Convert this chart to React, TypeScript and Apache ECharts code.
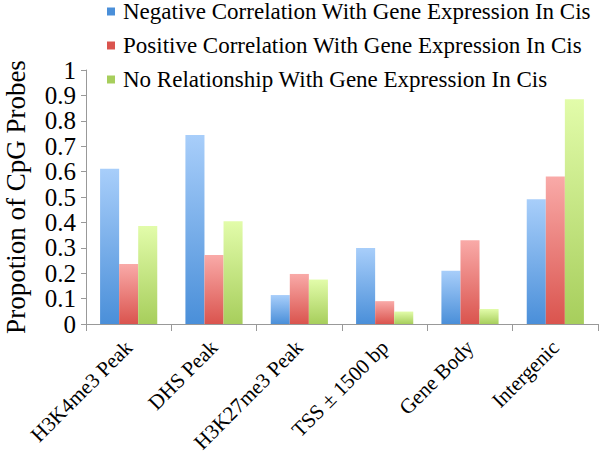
import React, { useEffect, useRef } from "react";
import * as echarts from "echarts";

const categories = ["H3K4me3 Peak", "DHS Peak", "H3K27me3 Peak", "TSS \u00b1 1500 bp", "Gene Body", "Intergenic"];
const seriesNames = [
  "Negative Correlation With Gene Expression In Cis",
  "Positive Correlation With Gene Expression In Cis",
  "No Relationship With Gene Expression In Cis",
];
const negativeValues = [0.611, 0.744, 0.114, 0.299, 0.21, 0.491];
const positiveValues = [0.236, 0.272, 0.197, 0.09, 0.33, 0.581];
const noRelValues = [0.386, 0.405, 0.175, 0.049, 0.059, 0.885];
const yTicks = [0, 0.1, 0.2, 0.3, 0.4, 0.5, 0.6, 0.7, 0.8, 0.9, 1];

const FONT = "Liberation Serif";

function grad(top: string, bottom: string) {
  return new echarts.graphic.LinearGradient(0, 0, 0, 1, [
    { offset: 0, color: top },
    { offset: 1, color: bottom },
  ]);
}

export default function App() {
  const ref = useRef<HTMLDivElement>(null);
  useEffect(() => {
    if (!ref.current) return;
    const chart = echarts.init(ref.current, undefined, { renderer: "svg" });
    const colors = [
      ["#a8cefa", "#4a8fd9"],
      ["#f9aaa8", "#da544e"],
      ["#e2fcaa", "#a7ce5c"],
    ];
    const data = [negativeValues, positiveValues, noRelValues];
    chart.setOption({
      animation: false,
      textStyle: { fontFamily: FONT },
      legend: {
        orient: "vertical",
        left: 107,
        top: 0,
        padding: 0,
        itemWidth: 8,
        itemHeight: 8,
        itemGap: 11,
        icon: "rect",
        textStyle: { fontSize: 23, fontFamily: FONT, color: "#000", padding: [0, 0, 0, 3] },
        data: seriesNames.map((n, i) => ({ name: n, itemStyle: { color: colors[i][1] } })),
      },
      grid: { left: 86, right: 2, top: 70, bottom: 130, containLabel: false, outerBoundsMode: "none" },
      xAxis: {
        type: "category",
        data: categories,
        axisLine: { lineStyle: { color: "#999" } },
        axisTick: { show: true, alignWithLabel: false, length: 7, lineStyle: { color: "#999" } },
        axisLabel: { rotate: 45, fontSize: 21, fontFamily: FONT, color: "#000", margin: 20, interval: 0 },
      },
      yAxis: {
        type: "value",
        min: 0,
        max: 1,
        interval: 0.1,
        name: "Propotion of CpG Probes",
        nameLocation: "middle",
        nameGap: 57,
        nameTextStyle: { fontSize: 27, fontFamily: FONT, color: "#000" },
        axisLine: { show: true, lineStyle: { color: "#999" } },
        axisTick: { show: true, length: 5, lineStyle: { color: "#999" } },
        splitLine: { show: false },
        axisLabel: {
          fontSize: 25,
          fontFamily: FONT,
          color: "#000",
          margin: 10,
          formatter: (v: number) => {
            const t = yTicks.find((x) => Math.abs(x - v) < 1e-6);
            return t === undefined ? "" : String(t);
          },
        },
      },
      series: seriesNames.map((n, i) => ({
        name: n,
        type: "bar",
        data: data[i],
        barGap: "0%",
        barCategoryGap: "33%",
        itemStyle: { color: grad(colors[i][0], colors[i][1]) },
      })),
    });
    return () => chart.dispose();
  }, []);
  return <div ref={ref} style={{ width: 600, height: 454, position: "absolute", left: 0, top: 0 }} />;
}
